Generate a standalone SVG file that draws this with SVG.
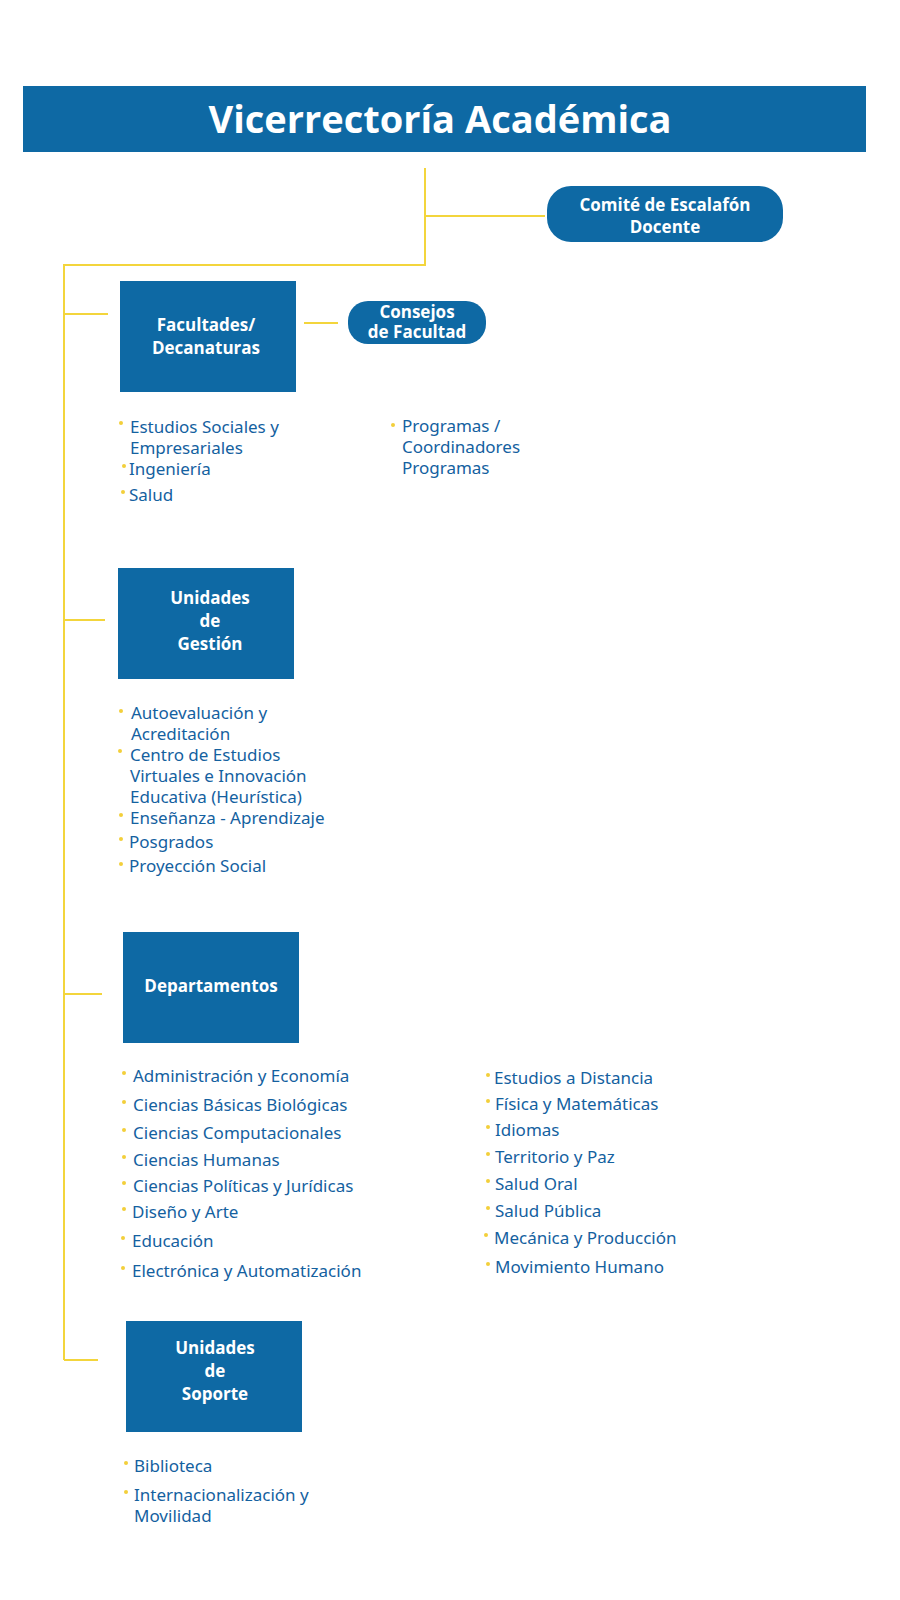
<svg xmlns="http://www.w3.org/2000/svg" width="900" height="1600" viewBox="0 0 900 1600">
<style>
.box{fill:#0e69a4}
.bt{font-family:"Open Sans","Noto Sans",sans-serif;font-weight:700;fill:#fff;font-size:17px;text-anchor:middle}
.li{font-family:"Noto Sans","Open Sans",sans-serif;fill:#14619f;font-size:17px}
.dot{fill:#f3cf3a}
.ln{stroke:#f3d53c;stroke-width:2;fill:none}
</style>
<rect width="900" height="1600" fill="#fff"/>
<g id="header"><rect class="box" x="23" y="86" width="843" height="66"/>
<text x="440" y="133" font-family="'Open Sans',sans-serif" font-weight="700" font-size="38" fill="#fff" text-anchor="middle">Vicerrectoría Académica</text></g>
<g id="connectors">
<path class="ln" d="M425 168V265H64V1360M425 216H545M64 314H108M64 620H105M64 994H102M64 1360H98M304 323H338"/>
</g>
<g id="comite"><rect class="box" x="547" y="186" width="236" height="56" rx="24"/>
<text class="bt" x="665" y="211">Comité de Escalafón</text><text class="bt" x="665" y="233">Docente</text></g>
<g id="consejos"><rect class="box" x="348" y="301" width="138" height="43" rx="20"/>
<text class="bt" x="417" y="318">Consejos</text><text class="bt" x="417" y="338">de Facultad</text></g>
<g id="facultades"><rect class="box" x="120" y="281" width="176" height="111"/>
<text class="bt" x="206" y="331">Facultades/</text><text class="bt" x="206" y="354">Decanaturas</text></g>
<g id="gestion"><rect class="box" x="118" y="568" width="176" height="111"/>
<text class="bt" x="210" y="604">Unidades</text><text class="bt" x="210" y="627">de</text><text class="bt" x="210" y="650">Gestión</text></g>
<g id="departamentos"><rect class="box" x="123" y="932" width="176" height="111"/>
<text class="bt" x="211" y="992">Departamentos</text></g>
<g id="soporte"><rect class="box" x="126" y="1321" width="176" height="111"/>
<text class="bt" x="215" y="1354">Unidades</text><text class="bt" x="215" y="1377">de</text><text class="bt" x="215" y="1400">Soporte</text></g>
<g id="lists" class="li">
<text x="130" y="433">Estudios Sociales y</text><text x="130" y="454">Empresariales</text>
<text x="129" y="475">Ingeniería</text><text x="129" y="501">Salud</text>
<text x="402" y="432">Programas /</text><text x="402" y="453">Coordinadores</text><text x="402" y="474">Programas</text>
<text x="131" y="719">Autoevaluación y</text><text x="131" y="740">Acreditación</text>
<text x="130" y="761">Centro de Estudios</text><text x="130" y="782">Virtuales e Innovación</text><text x="130" y="803">Educativa (Heurística)</text>
<text x="130" y="824">Enseñanza - Aprendizaje</text><text x="129" y="848">Posgrados</text><text x="129" y="872">Proyección Social</text>
<text x="133" y="1082">Administración y Economía</text><text x="133" y="1111">Ciencias Básicas Biológicas</text>
<text x="133" y="1139">Ciencias Computacionales</text><text x="133" y="1166">Ciencias Humanas</text>
<text x="133" y="1192">Ciencias Políticas y Jurídicas</text><text x="132" y="1218">Diseño y Arte</text>
<text x="132" y="1247">Educación</text><text x="132" y="1277">Electrónica y Automatización</text>
<text x="494" y="1084">Estudios a Distancia</text><text x="495" y="1110">Física y Matemáticas</text>
<text x="495" y="1136">Idiomas</text><text x="495" y="1163">Territorio y Paz</text>
<text x="495" y="1190">Salud Oral</text><text x="495" y="1217">Salud Pública</text>
<text x="494" y="1244">Mecánica y Producción</text><text x="495" y="1273">Movimiento Humano</text>
<text x="134" y="1472">Biblioteca</text><text x="134" y="1501">Internacionalización y</text><text x="134" y="1522">Movilidad</text>
</g>
<g id="bullets" class="dot">
<circle cx="121" cy="423" r="2"/><circle cx="124" cy="466" r="2"/><circle cx="123" cy="492" r="2"/><circle cx="393" cy="425" r="2"/>
<circle cx="121" cy="711" r="2"/><circle cx="120" cy="751" r="2"/><circle cx="121" cy="815" r="2"/><circle cx="121" cy="839" r="2"/><circle cx="121" cy="864" r="2"/>
<circle cx="124" cy="1073" r="2"/><circle cx="124" cy="1102" r="2"/><circle cx="124" cy="1130" r="2"/><circle cx="124" cy="1157" r="2"/><circle cx="124" cy="1183" r="2"/><circle cx="124" cy="1209" r="2"/><circle cx="123" cy="1238" r="2"/><circle cx="123" cy="1268" r="2"/>
<circle cx="488" cy="1075" r="2"/><circle cx="488" cy="1101" r="2"/><circle cx="488" cy="1127" r="2"/><circle cx="488" cy="1154" r="2"/><circle cx="488" cy="1181" r="2"/><circle cx="488" cy="1208" r="2"/><circle cx="486" cy="1235" r="2"/><circle cx="488" cy="1264" r="2"/>
<circle cx="126" cy="1463" r="2"/><circle cx="126" cy="1492" r="2"/>
</g>
</svg>
